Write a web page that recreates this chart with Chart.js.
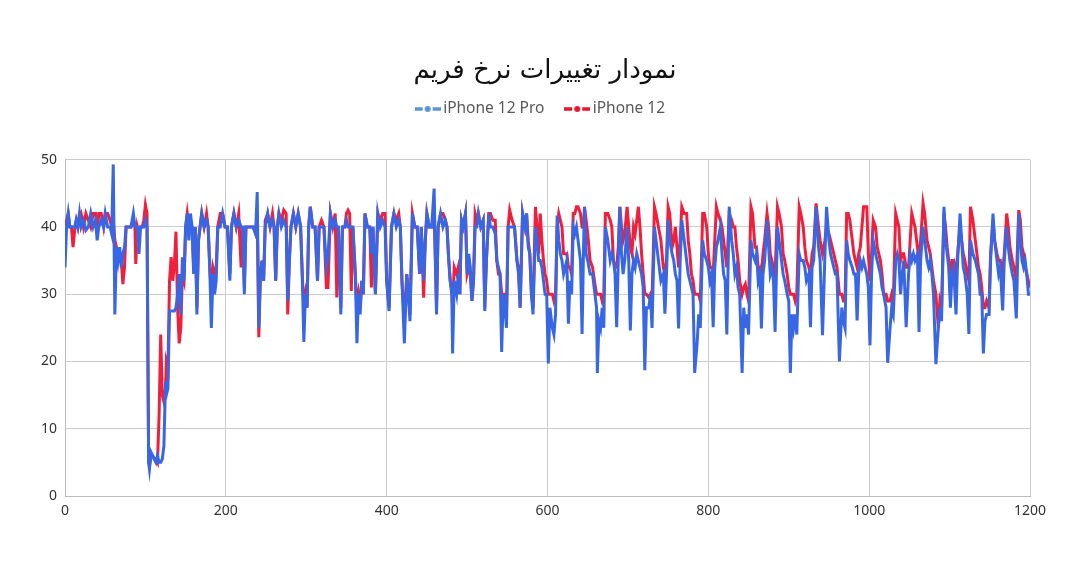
<!DOCTYPE html>
<html>
<head>
<meta charset="utf-8">
<script src="https://cdn.jsdelivr.net/npm/chart.js@4"></script>
<style>
html,body{margin:0;padding:0;background:#fff;}
#wrap{width:1080px;height:576px;position:relative;}
</style>
</head>
<body>
<div id="wrap"><canvas id="c" width="1080" height="576"></canvas></div>
<script>
const chartTitle = "نمودار تغییرات نرخ فریم";
const seriesNames = ["iPhone 12 Pro", "iPhone 12"];
const xTicks = [0, 200, 400, 600, 800, 1000, 1200];
const yTicks = [0, 10, 20, 30, 40, 50];

const frames = [0,2,4,6,8,10,12,14,16,18,20,23,26,29,32,35,38,40,42,45,48,50,53,56,58,60,62,64,66,68,70,72,74,76,78,82,85,87,88,90,92,94,96,98,100,102,104,105,107,109,111,113,115,117,119,121,123,125,126,128,130,132,134,136,138,140,142,144,146,148,150,152,154,156,158,160,162,164,166,168,170,173,176,178,180,182,184,186,188,190,193,196,199,202,205,207,210,213,216,219,221,223,225,228,231,234,237,239,241,243,245,247,249,252,255,258,260,262,264,266,269,272,275,277,279,281,284,287,290,293,295,297,299,301,303,305,308,311,314,316,319,322,325,327,330,333,336,338,340,343,345,348,350,352,354,356,358,361,363,365,367,369,371,373,376,379,381,383,386,389,392,395,398,400,403,406,409,412,415,417,419,422,425,427,429,432,435,438,441,443,446,448,450,453,456,459,462,464,467,470,473,475,477,479,481,482,484,487,489,491,493,495,498,500,502,504,506,508,510,512,514,517,520,522,524,527,529,532,535,537,539,541,543,545,547,549,551,553,556,559,562,564,566,569,572,574,576,578,580,582,585,587,589,591,593,595,597,599,601,603,606,608,610,612,614,616,618,620,622,624,626,628,630,632,634,636,638,641,643,645,646,648,650,653,656,659,661,662,664,666,668,670,672,675,678,680,682,684,686,688,690,692,694,696,699,701,703,705,707,709,711,713,715,717,719,721,723,726,728,730,733,735,738,741,744,746,748,750,752,755,757,759,761,763,765,767,770,773,775,777,779,781,783,786,788,790,793,795,798,800,802,804,806,808,810,812,815,817,819,821,823,826,829,831,833,835,837,839,842,844,846,848,850,853,855,858,860,862,864,866,868,870,873,875,877,879,881,883,886,888,891,893,895,898,900,902,904,906,908,910,913,915,918,920,922,925,927,929,931,934,937,939,942,945,947,950,952,954,956,958,960,963,966,968,970,972,974,976,979,981,983,985,987,989,991,993,995,997,999,1001,1003,1005,1008,1010,1012,1014,1016,1018,1021,1023,1026,1028,1030,1033,1035,1037,1039,1041,1043,1046,1049,1051,1053,1055,1057,1060,1062,1064,1067,1069,1072,1074,1076,1078,1080,1083,1086,1088,1090,1093,1095,1097,1099,1101,1103,1105,1108,1110,1113,1115,1117,1119,1122,1124,1126,1129,1132,1134,1136,1138,1140,1142,1144,1146,1149,1151,1154,1156,1159,1161,1163,1166,1168,1171,1173,1175,1178,1180,1183,1186,1188,1190,1192,1194,1196,1198,1200];

const iphone12ProFps = [34,40,42,40,40,40,40,41,40,42,40,41,39.5,40,42,40,41,38,40,41,40,42,40,40,39,49.3,27,37,35,37,34,36,37,40,40,40,42,40,40,40,36,40,40,40,41,40,5,4,6.5,6,5.5,5,6,5,5,5.5,7.5,17,15,16,27.5,27.5,27.5,27.5,28,30,33,27,35.5,32,40,42,38,42,40,33,40,27,38,40,42,40,41,40,34,25,33,30,32,40,40,42,40,40,32,40,42,40,41,40,40,30,40,40,40,40,39,45.2,25,33,35,32,40,42,40,41,40,32,40,42,40,41,40,29,35,40,42,40,42,40,33,22.9,30,28,40,43,40,40,32,40,40,40,34,35.5,42,40,41,40,40,27,40,40,41,40,40,40,40,33,22.7,30,27,32,30,42,40,40,36,40,30,42,40,41,40,32,27.5,40,42,40,41,40,32,22.7,33,30,26,42,40,40,33,40,32,38,42,40,40,45.7,27,40,42,40,41,40,35.5,32,30,21.2,32,30,33,30,41,40,42,33,36,34,29,32,40,40,42,40,41,27.5,35,42,40,40,39,35,34,33,21.4,30,28,25,40,40,40,40,35,33,28,42,40,42,37,36,30,27,40,38,35,35,34,32,30,30,19.7,28,25,24,27,41.7,38,36,35,33,34,35,25.6,32,30,40,39,40,38,35,24.1,38,42.9,36,35,33,33,30,28,18.3,26,25,28,25,40,38,35,36,35,33,25.1,35,43,36,33,35,40,35,24.6,33,35,34,36,35,34,33,31,18.7,28,28,30,25,40,38,35,32,33,27.1,33,41,38,36,35,33,32,24.9,35,41,38,35,33,32,31,30,18.3,22.6,27,25,38,36,35,34,32,33,25.1,34,37,38,40,36,33,32,24,43,38,36,33,34,31,30,18.3,28,25,27,24,38,36,35,36,32,33,24.9,33,35,41,37,33,34,32,24.4,40,38,35,33,32,30,29,18.3,27,25,27,24,36,35,35,34,32,33,25.1,34,35,43,37,35,23.9,36,43,38,36,35,34,33,33,20,28,26,25,38,36,35,34,33,33,26.1,33,35,34,35,34,33,31,22.4,33,38,36,35,34,33,31,30,28,19.8,25,28,27,35,36,35,30,33,35,25.1,33,36,35,36,35,36,24.4,35,40,38,35,34,35,33,30,19.6,25,28,26,43,38,36,34,28,33,34,27,35,42,38,34,33,30,24.1,38,36,35,34,33,30,30,21.2,26,27,27,35,42,38,35,33,34,27.6,35,40,37,35,33,32,26.4,42,38,35,34,35,33,30,30];

const iphone12Fps = [40,41,42,40,40,37,39.5,41,40,41.5,42,40,42,41,40,42,42,39,42,42,40,42,42,41,40,41,38,37,36,36,35,31.5,34,40,40,40,41,40,34.5,40,39,40,40,41,43.3,42,5,4.5,6,6,5.5,5.5,5,12,24,15,14,16,20,19,32,35.5,32,34.5,39.3,28,22.7,25,33,32,40,42,40,41,40,34,40,28,38,40,42,40,42,40,34,30,34,33,34,40,42,42,40,40,33,40,42,40,42,34,40,31,40,40,40,40,39,42,23.6,33,35,32,41,42,40,42,40,32,40,42,41,42.5,42,27,35,40,42,40,42,40,33,28,30,28,40,43,40,40,32,40,41,40,31,31,42,40,42,29.5,40,28,40,40,42,42.5,42,30.5,40,33,28,30,28,32,30,42,40,40,31,40,30,42,41,42,42,32,28,40,42,41,42,40,32,26,33,30,27,42,40,40,33,40,29.5,38,42,40,40,42,28,40,42,42,41,40,35.5,32,30.5,28,34,33,34,30,41,40,42,33,34,33,29,32,42,41,42,40,41,28,35,42,42,41,41,35,33,33,30,30,30,27,40,42.5,41,40,35,34,28,42,40,42,38,36,30,28,43,40,36,42,38,35,33,32,30,30,30,29,30,40,42,41,40,36,36,36,34,34,33,42,42,43,43,42,40,40,43,41,39,35,34,31.5,30,30,30,30,29,30,42,42,41,40,35,34,34,37,43,40,38,39,43,40,37,36,40,39,41,43,40,36,33,30,30,29.5,30,29,43,42,40,38,34,33,35,43,42,37,38,40,37,34,38,43,42,42,38,36,33,32,30,30,30,29,42,42,40,36,34,34,33,38,43,42,41,40,38,36,34,42,41,40,40,37,35,32,30,31,31.5,30,29,43,42,37,37,34,34,33,36,38,42,40,36,35,34,33,43,42,40,36,35,33,31,30,30,30,29,30,43,42,40,37,35,34,33,36,37,43.5,40,38,36,38,40,39,38,37,36,35,34,30,30,29,29,42,42,41,38,36,35,34,36,37,40,43,43,43,36,32,36,41,40,37,36,35,33,30,30,29,29,30,29,42,41,40,35,36,36,34,34,38,42,41,40,37,35,38,43.5,42,38,37,36,34,32,30,25,29,28,42,40,37,35,30,35,35,33,36,40,38,36,35,33,32,43,41,38,36,34,33,31,28,28,29,28,36,41,38,36,35,35,33,36,42,40,37,35,34,32,42.5,41,37,36,34,33,32,31];

const proPoints = frames.map((f, i) => ({x: f, y: iphone12ProFps[i]}));
const p12Points = frames.map((f, i) => ({x: f, y: iphone12Fps[i]}));

function legendMarker(color) {
  const cv = document.createElement('canvas');
  cv.width = 26; cv.height = 10;
  const g = cv.getContext('2d');
  g.strokeStyle = color; g.lineWidth = 3.5;
  g.beginPath(); g.moveTo(0, 5); g.lineTo(8, 5); g.moveTo(18, 5); g.lineTo(26, 5); g.stroke();
  g.fillStyle = color;
  g.beginPath(); g.arc(13, 5, 3, 0, Math.PI * 2); g.fill();
  return cv;
}
const proMarker = legendMarker('#5b95d8');
const p12Marker = legendMarker('#e8152f');

const legendSpace = {
  id: 'legendSpace',
  beforeInit(chart) {
    const orig = chart.legend.fit;
    chart.legend.fit = function () {
      orig.bind(chart.legend)();
      this.height += 33;
    };
  },
  afterLayout(chart) {
    // centre title and legend over the full canvas width (as in the reference)
    if (chart.titleBlock) { chart.titleBlock.left = 0; chart.titleBlock.right = 1090; chart.titleBlock.width = 1090; }
    if (chart.legend) { chart.legend.left = 0; chart.legend.right = 1085; chart.legend.width = 1085; }
  }
};

new Chart(document.getElementById('c'), {
  type: 'line',
  data: {
    datasets: [
      { label: seriesNames[0], data: proPoints, borderColor: '#3867e6', backgroundColor: '#3867e6', borderWidth: 3, pointRadius: 0, tension: 0, pointStyle: proMarker },
      { label: seriesNames[1], data: p12Points, borderColor: '#f0203c', backgroundColor: '#f0203c', borderWidth: 3, pointRadius: 0, tension: 0, pointStyle: p12Marker }
    ]
  },
  options: {
    responsive: false,
    animation: false,
    layout: { padding: { left: 0, right: 50, top: 0, bottom: 0 } },
    plugins: {
      title: {
        display: true, text: chartTitle, color: '#111',
        font: { family: "'DejaVu Sans', 'Noto Sans'", size: 26, weight: 'normal' },
        padding: { top: 56, bottom: -11 }
      },
      legend: {
        display: true,
        labels: {
          usePointStyle: true, color: '#595959',
          font: { family: "'Noto Sans', 'Open Sans'", size: 15.5 },
          padding: 25,
          generateLabels(chart) {
            return chart.data.datasets.map((ds, i) => ({
              text: ds.label, pointStyle: ds.pointStyle, fillStyle: ds.borderColor,
              strokeStyle: ds.borderColor, lineWidth: 0, hidden: false, datasetIndex: i, fontColor: '#595959'
            }));
          }
        }
      },
      tooltip: { enabled: false }
    },
    scales: {
      x: {
        type: 'linear', min: 0, max: 1200,
        afterBuildTicks(scale) { scale.ticks = xTicks.map(v => ({ value: v })); },
        afterFit(scale) { scale.height = 80; },
        grid: { color: '#cccccc', lineWidth: 1, drawTicks: false },
        border: { color: '#bbbbbb' },
        ticks: { color: '#333', font: { family: "'Noto Sans'", size: 14 }, padding: 7, maxRotation: 0, callback: v => String(v) }
      },
      y: {
        min: 0, max: 50,
        afterBuildTicks(scale) { scale.ticks = yTicks.map(v => ({ value: v })); },
        afterFit(scale) { scale.width = 65; },
        grid: { color: '#cccccc', lineWidth: 1, drawTicks: false },
        border: { color: '#bbbbbb' },
        ticks: { color: '#333', font: { family: "'Noto Sans'", size: 14 }, padding: 8, callback: v => String(v) }
      }
    }
  },
  plugins: [legendSpace]
});
</script>
</body>
</html>
